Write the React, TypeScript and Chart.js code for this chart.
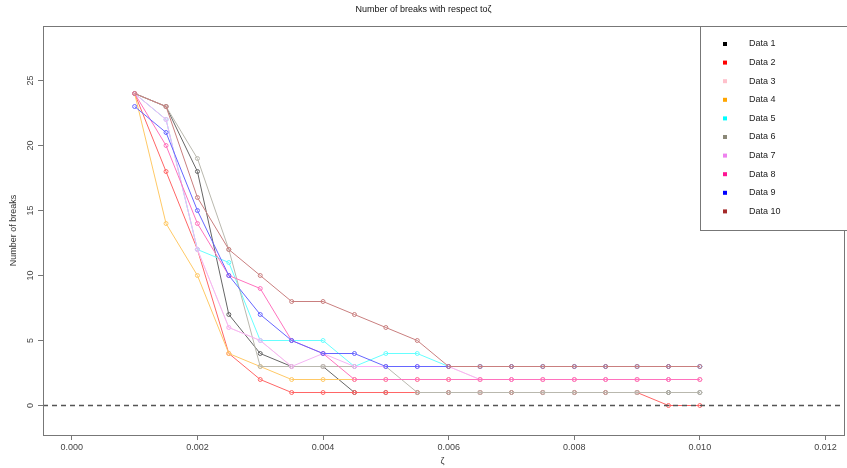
import React, { useEffect, useRef } from "react";
import { Chart, registerables } from "chart.js";
Chart.register(...registerables);

// x values (ζ)
const zeta = [0.001, 0.0015, 0.002, 0.0025, 0.003, 0.0035, 0.004, 0.0045, 0.005, 0.0055, 0.006, 0.0065, 0.007, 0.0075, 0.008, 0.0085, 0.009, 0.0095, 0.01];

const data1 = [24, 23, 18, 7, 4, 3, 3, 1, 1, 1, 1, 1, 1, 1, 1, 1, 1, 1, 1];
const data2 = [24, 18, 12, 4, 2, 1, 1, 1, 1, 1, 1, 1, 1, 1, 1, 1, 1, 0, 0];
const data3 = [24, 22, 12, 6, 5, 3, 3, 3, 3, 3, 3, 2, 2, 2, 2, 2, 2, 2, 2];
const data4 = [24, 14, 10, 4, 3, 2, 2, 2, 2, 2, 2, 2, 2, 2, 2, 2, 2, 2, 2];
const data5 = [24, 22, 12, 11, 5, 5, 5, 3, 4, 4, 3, 3, 3, 3, 3, 3, 3, 3, 3];
const data6 = [24, 23, 19, 12, 3, 3, 3, 3, 3, 1, 1, 1, 1, 1, 1, 1, 1, 1, 1];
const data7 = [24, 22, 12, 6, 5, 3, 4, 3, 3, 3, 3, 2, 2, 2, 2, 2, 2, 2, 2];
const data8 = [24, 20, 14, 10, 9, 5, 4, 2, 2, 2, 2, 2, 2, 2, 2, 2, 2, 2, 2];
const data9 = [23, 21, 15, 10, 7, 5, 4, 4, 3, 3, 3, 3, 3, 3, 3, 3, 3, 3, 3];
const data10 = [24, 23, 16, 12, 10, 8, 8, 7, 6, 5, 3, 3, 3, 3, 3, 3, 3, 3, 3];

const seriesValues = [data1, data2, data3, data4, data5, data6, data7, data8, data9, data10];
const seriesLabels = ["Data 1", "Data 2", "Data 3", "Data 4", "Data 5", "Data 6", "Data 7", "Data 8", "Data 9", "Data 10"];
const seriesColors = ["#000000", "#FF0000", "#FFC0CB", "#FFA500", "#00FFFF", "#8B8878", "#EE82EE", "#FF1493", "#0000FF", "#A52A2A"];

const xTicks = [0, 0.002, 0.004, 0.006, 0.008, 0.01, 0.012];
const yTicks = [0, 5, 10, 15, 20, 25];

const titleText = "Number of breaks with respect to\u03B6";
const xTitle = "\u03B6";
const yTitle = "Number of breaks";

const FONT = "'Liberation Sans', Arial, sans-serif";

// lighten a colour toward white (as the reference's faded lines look)
function faded(hex: string, a: number) {
  const r = parseInt(hex.slice(1, 3), 16);
  const g = parseInt(hex.slice(3, 5), 16);
  const b = parseInt(hex.slice(5, 7), 16);
  const m = (c: number) => Math.round(c * a + 255 * (1 - a));
  return `rgb(${m(r)},${m(g)},${m(b)})`;
}

const framePlugin = {
  id: "frameAndExtras",
  afterDatasetsDraw(chart: any) {
    const { ctx, chartArea } = chart;
    const y0 = chart.scales.y.getPixelForValue(0);
    ctx.save();
    ctx.beginPath();
    ctx.rect(chartArea.left, chartArea.top, chartArea.right - chartArea.left, chartArea.bottom - chartArea.top);
    ctx.clip();
    ctx.strokeStyle = "#555555";
    ctx.lineWidth = 1.3;
    ctx.setLineDash([5, 4]);
    ctx.beginPath();
    ctx.moveTo(chartArea.left, Math.floor(y0) + 0.5);
    ctx.lineTo(chartArea.right, Math.floor(y0) + 0.5);
    ctx.stroke();
    ctx.restore();
  },
  afterDraw(chart: any) {
    const { ctx, chartArea } = chart;
    ctx.save();
    ctx.strokeStyle = "#777777";
    ctx.lineWidth = 1;
    ctx.strokeRect(Math.round(chartArea.left) + 0.5, Math.round(chartArea.top) + 0.5, chartArea.right - chartArea.left + 2, Math.round(chartArea.bottom - chartArea.top));
    // legend box
    const lx = 700.5, ly = Math.round(chartArea.top) + 0.5;
    const lh = 204;
    ctx.fillStyle = "#ffffff";
    ctx.fillRect(lx, ly, 160, lh);
    ctx.strokeRect(lx, ly, 160, lh);
    ctx.font = `9px ${FONT}`;
    ctx.textBaseline = "middle";
    ctx.textAlign = "left";
    chart.data.datasets.forEach((ds: any, i: number) => {
      const cy = 44 + i * 18.6;
      ctx.fillStyle = ds.legendColor;
      ctx.fillRect(723, cy - 2, 4, 4);
      ctx.fillStyle = "#222222";
      ctx.fillText(ds.label, 749, cy);
    });
    ctx.restore();
  },
};

export default function App() {
  const ref = useRef<HTMLCanvasElement | null>(null);
  useEffect(() => {
    if (!ref.current) return;
    const datasets = seriesValues.map((vals, i) => ({
      label: seriesLabels[i],
      data: vals.map((v, j) => ({ x: zeta[j], y: v })),
      borderColor: faded(seriesColors[i], 0.6),
      backgroundColor: "rgba(0,0,0,0)",
      pointBorderColor: faded(seriesColors[i], 0.6),
      pointBackgroundColor: "rgba(0,0,0,0)",
      pointRadius: 2,
      pointBorderWidth: 1,
      borderWidth: 1,
      tension: 0,
      fill: false,
      order: 10 - i,
      legendColor: seriesColors[i],
    }));
    const chart = new Chart(ref.current, {
      type: "line",
      data: { datasets } as any,
      options: {
        animation: false,
        responsive: false,
        devicePixelRatio: 1,
        layout: { padding: { left: 0, right: 0, top: 0, bottom: 0 } },
        plugins: {
          legend: { display: false },
          tooltip: { enabled: false },
          title: {
            display: true,
            text: titleText,
            color: "#111111",
            font: { family: FONT, size: 9, weight: "normal" },
            padding: { top: 4, bottom: 11.2 },
          },
        },
        scales: {
          x: {
            type: "linear",
            min: -0.000459,
            max: 0.012263,
            afterBuildTicks: (s: any) => {
              s.ticks = xTicks.map((v) => ({ value: v }));
            },
            afterFit: (s: any) => {
              s.height = 33;
            },
            ticks: {
              callback: (v: any) => Number(v).toFixed(3),
              color: "#444444",
              font: { family: FONT, size: 9 },
              padding: 2,
              maxRotation: 0,
              autoSkip: false,
            },
            grid: { display: true, drawOnChartArea: false, drawTicks: true, tickLength: 5, color: "#777777" },
            border: { display: false },
            title: { display: true, text: xTitle, color: "#333333", font: { family: FONT, size: 9 }, padding: { top: 0, bottom: 1 } },
          },
          y: {
            type: "linear",
            min: -29.5 / 13,
            max: 379.5 / 13,
            afterBuildTicks: (s: any) => {
              s.ticks = yTicks.map((v) => ({ value: v }));
            },
            afterFit: (s: any) => {
              s.width = 43;
            },
            ticks: {
              color: "#444444",
              font: { family: FONT, size: 9 },
              padding: 2,
              minRotation: 90,
              maxRotation: 90,
              crossAlign: "center",
              autoSkip: false,
            },
            grid: { display: true, drawOnChartArea: false, drawTicks: true, tickLength: 5, color: "#777777" },
            border: { display: false },
            title: { display: true, text: yTitle, color: "#333333", font: { family: FONT, size: 9 }, padding: { top: 8, bottom: 0 } },
          },
        },
      } as any,
      plugins: [framePlugin],
    });
    return () => chart.destroy();
  }, []);
  return (
    <div style={{ position: "fixed", left: 0, top: 0, width: 847, height: 468, background: "#ffffff" }}>
      <canvas ref={ref} width={847} height={468} style={{ display: "block" }} />
    </div>
  );
}
